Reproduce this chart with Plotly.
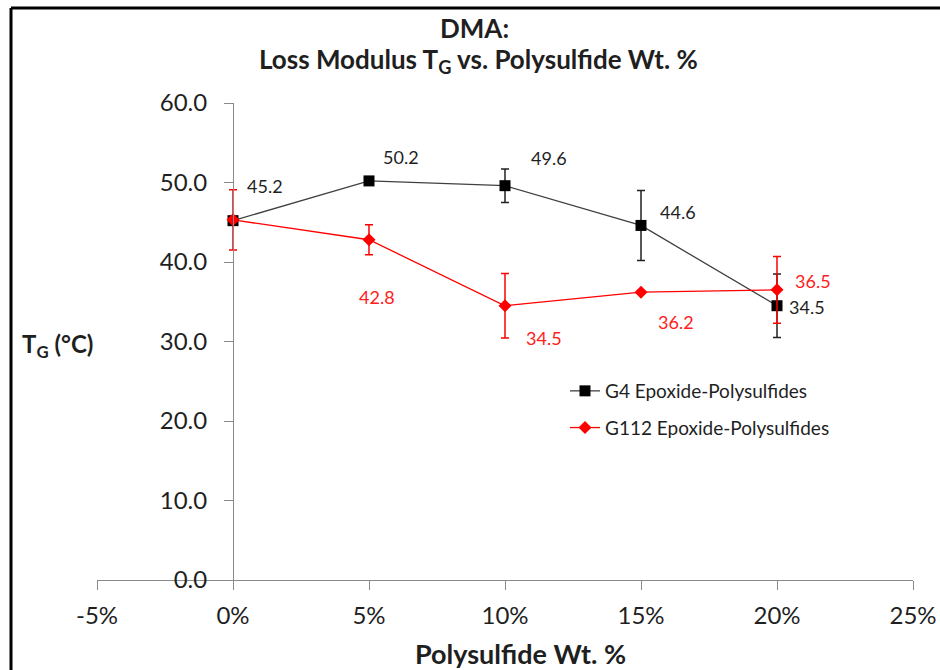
import plotly.graph_objects as go

# ---- data ----
wt_frac = [0.00, 0.05, 0.10, 0.15, 0.20]
g4_tg = [45.2, 50.2, 49.6, 44.6, 34.5]
g4_err = [0.0, 0.0, 2.1, 4.4, 4.0]
g112_tg = [45.3, 42.8, 34.5, 36.2, 36.5]
g112_err = [3.8, 1.9, 4.05, 0.0, 4.2]
g112_labels = [None, "42.8", "34.5", "36.2", "36.5"]
g4_labels = ["45.2", "50.2", "49.6", "44.6", "34.5"]
x_tickvals = [-0.05, 0.00, 0.05, 0.10, 0.15, 0.20, 0.25]
x_ticktext = ["-5%", "0%", "5%", "10%", "15%", "20%", "25%"]
y_tickvals = [0, 10, 20, 30, 40, 50, 60]

# ---- style ----
FONT = "Lato"
TXT = "#1f1f1f"
AX = "#8a8a8a"
XMIN, XMAX = -0.05, 0.25
FW, FH = 940, 670
ML, MR, MT, MB = 97, 27, 103, 90
W, H = FW - ML - MR, FH - MT - MB
g4_off = [(32, 35), (32, 24), (44, 28), (37, 13), (30, -1)]
g112_off = [(0, 0), (8, -57), (39, -32), (35, -30), (36, 9)]


def px(p):
    return (p - ML) / W


def py(p):
    return (FH - MB - p) / H


fig = go.Figure()
fig.add_trace(go.Scatter(
    x=wt_frac, y=g4_tg, mode="lines+markers", name="G4 Epoxide-Polysulfides",
    line=dict(color="#404040", width=1.3),
    marker=dict(symbol="square", size=11, color="black"),
    error_y=dict(type="data", array=g4_err, visible=True, color="#222222",
                 thickness=1.5, width=4),
    legendgroup="a",
))
fig.add_trace(go.Scatter(
    x=wt_frac, y=g112_tg, mode="lines+markers", name="G112 Epoxide-Polysulfides",
    line=dict(color="#ff0000", width=1.3),
    marker=dict(symbol="diamond", size=10, color="#ff0000"),
    error_y=dict(type="data", array=g112_err, visible=True, color="#ff0000",
                 thickness=1.5, width=4),
    legendgroup="b",
))

ann = []
for x, y, t, (dx, dy) in zip(wt_frac, g4_tg, g4_labels, g4_off):
    ann.append(dict(x=x, y=y, xref="x", yref="y", text=t, showarrow=False,
                    xanchor="center", yanchor="middle",
                    xshift=dx, yshift=dy, font=dict(family=FONT, size=18, color=TXT)))
for x, y, t, (dx, dy) in zip(wt_frac, g112_tg, g112_labels, g112_off):
    if t is None:
        continue
    ann.append(dict(x=x, y=y, xref="x", yref="y", text=t, showarrow=False,
                    xanchor="center", yanchor="middle",
                    xshift=dx, yshift=dy, font=dict(family=FONT, size=18, color="#ff2020")))

ann.append(dict(x=px(474), y=py(28), xref="paper", yref="paper", text="<b>DMA:</b>",
                xanchor="center", yanchor="middle",
                showarrow=False, font=dict(family=FONT, size=26, color=TXT)))
ann.append(dict(x=px(478), y=py(60), xref="paper", yref="paper",
                text="<b>Loss Modulus T<sub>G</sub> vs. Polysulfide Wt. %</b>",
                xanchor="center", yanchor="middle",
                showarrow=False, font=dict(family=FONT, size=26, color=TXT)))
ann.append(dict(x=px(57), y=py(345), xref="paper", yref="paper",
                text="<b>T<sub>G</sub> (°C)</b>",
                xanchor="center", yanchor="middle",
                showarrow=False, font=dict(family=FONT, size=24, color=TXT)))
ann.append(dict(x=px(520), y=py(653), xref="paper", yref="paper",
                text="<b>Polysulfide Wt. %</b>",
                xanchor="center", yanchor="middle",
                showarrow=False, font=dict(family=FONT, size=27, color=TXT)))

fig.update_layout(
    width=FW, height=FH, autosize=False,
    margin=dict(l=ML, r=MR, t=MT, b=MB, autoexpand=False),
    paper_bgcolor="white", plot_bgcolor="white",
    showlegend=True,
    legend=dict(x=px(565), y=py(372), xanchor="left", yanchor="top",
                font=dict(family=FONT, size=19, color=TXT),
                bgcolor="rgba(0,0,0,0)", tracegroupgap=9),
    xaxis=dict(range=[XMIN, XMAX], tickvals=x_tickvals, ticktext=x_ticktext,
               showline=True, linecolor=AX, linewidth=1, ticks="outside",
               ticklen=9, tickcolor=AX, showgrid=False, zeroline=False,
               tickfont=dict(family=FONT, size=24, color=TXT),
               ticklabelstandoff=5, automargin=False),
    yaxis=dict(range=[0, 60], tickvals=y_tickvals, tickformat=".1f",
               anchor="free", position=(0 - XMIN) / (XMAX - XMIN),
               showline=True, linecolor=AX, linewidth=1, ticks="outside",
               ticklen=9, tickcolor=AX, showgrid=False, zeroline=False,
               tickfont=dict(family=FONT, size=24, color=TXT),
               ticklabelstandoff=12, automargin=False),
    annotations=ann,
)

# chart frame (top and left edges)
fig.add_shape(type="line", xref="paper", yref="paper", x0=px(11), x1=px(945),
              y0=py(8), y1=py(8), line=dict(color="black", width=3))
fig.add_shape(type="line", xref="paper", yref="paper", x0=px(11), x1=px(11),
              y0=py(8), y1=py(FH), line=dict(color="black", width=3))

fig.write_html("out.html", config={"displayModeBar": False, "responsive": False})
